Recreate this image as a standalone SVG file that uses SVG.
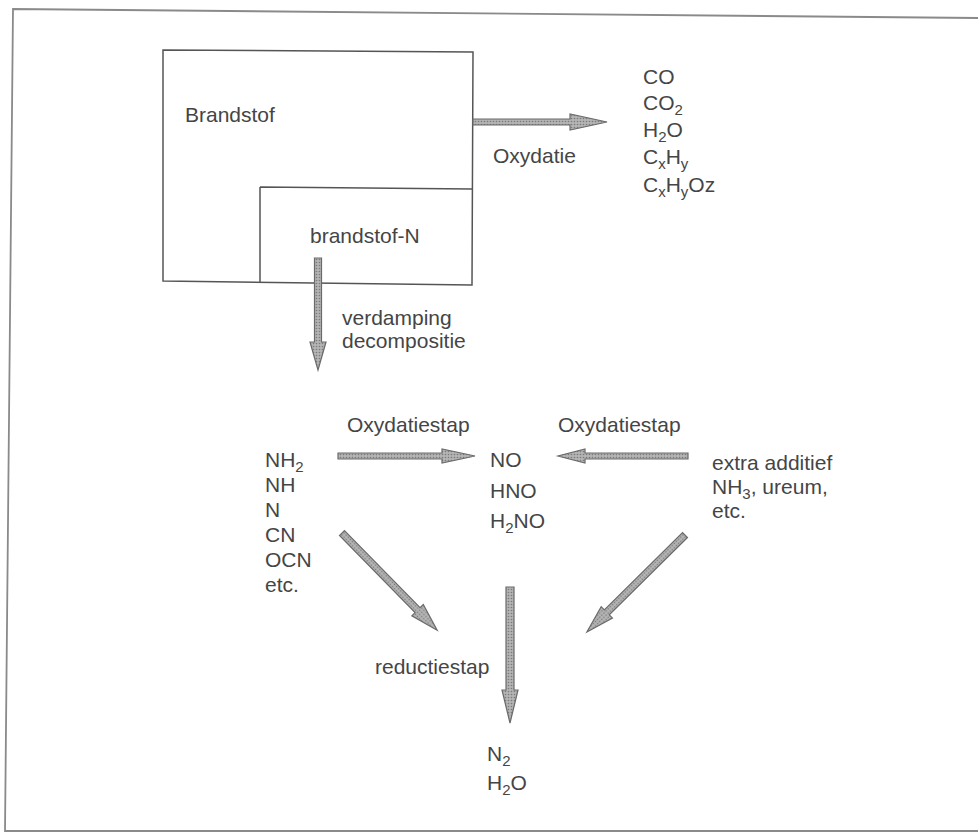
<svg xmlns="http://www.w3.org/2000/svg" width="978" height="836" viewBox="0 0 978 836">
<defs>
<pattern id="dots" width="3" height="3" patternUnits="userSpaceOnUse">
<rect width="3" height="3" fill="#b4b4b4"/>
<circle cx="1.5" cy="1.5" r="0.8" fill="#7a7a7a"/>
</pattern>
</defs>
<style>
.t{font-family:"Liberation Sans",Arial,sans-serif;font-size:21px;fill:#454545}
.s{font-size:15px}
.box{fill:none;stroke:#555;stroke-width:1.5}
.frame{fill:none;stroke:#8a8a8a;stroke-width:1.8}
.arr{fill:url(#dots);stroke:#6a6a6a;stroke-width:1.2;stroke-linejoin:miter}
</style>
<rect width="978" height="836" fill="#fff"/>
<path class="frame" d="M978,18 L13,9 L5,831 L978,831"/>

<g id="brandstof">
<path class="box" d="M163,50 L473,52 L472,285 L163,281 Z"/>
<text class="t" x="185" y="122">Brandstof</text>
</g>
<g id="brandstof-n">
<path class="box" d="M260,187 L472,189 M260,187 L260,283"/>
<text class="t" x="310" y="243">brandstof-N</text>
</g>

<g id="products-ox">
<text class="t" x="643" y="84">CO</text>
<text class="t" x="643" y="110">CO<tspan class="s" dy="5">2</tspan></text>
<text class="t" x="643" y="137">H<tspan class="s" dy="5">2</tspan><tspan dy="-5">O</tspan></text>
<text class="t" x="643" y="164">C<tspan class="s" dy="5">x</tspan><tspan dy="-5">H</tspan><tspan class="s" dy="5">y</tspan></text>
<text class="t" x="643" y="192">C<tspan class="s" dy="5">x</tspan><tspan dy="-5">H</tspan><tspan class="s" dy="5">y</tspan><tspan dy="-5">Oz</tspan></text>
</g>

<g id="intermediates">
<text class="t" x="265" y="467">NH<tspan class="s" dy="5">2</tspan></text>
<text class="t" x="265" y="492">NH</text>
<text class="t" x="265" y="517">N</text>
<text class="t" x="265" y="542">CN</text>
<text class="t" x="265" y="567">OCN</text>
<text class="t" x="265" y="592">etc.</text>
</g>

<g id="no-species">
<text class="t" x="490" y="467">NO</text>
<text class="t" x="490" y="498">HNO</text>
<text class="t" x="490" y="528">H<tspan class="s" dy="5">2</tspan><tspan dy="-5">NO</tspan></text>
</g>

<g id="additief">
<text class="t" x="712" y="470">extra additief</text>
<text class="t" x="712" y="494">NH<tspan class="s" dy="5">3</tspan><tspan dy="-5">, ureum,</tspan></text>
<text class="t" x="712" y="518">etc.</text>
</g>

<g id="end-products">
<text class="t" x="487" y="761">N<tspan class="s" dy="5">2</tspan></text>
<text class="t" x="487" y="790">H<tspan class="s" dy="5">2</tspan><tspan dy="-5">O</tspan></text>
</g>

<g id="connectors">
<polygon class="arr" points="473,119 570,119 570,114 607,122 570,130 570,125 473,125"/>
<polygon class="arr" points="314.5,258 321.5,258 321.5,342 326,342 318,370 310,342 314.5,342"/>
<polygon class="arr" points="338,453 442,453 442,449 475,456 442,463 442,459 338,459"/>
<polygon class="arr" points="688,453 585,453 585,449 558,456 585,463 585,459 688,459"/>
<polygon class="arr" points="506,587 514,587 514,690 518,690 510,723 502,690 506,690"/>
<g transform="translate(342,533) rotate(45.6)">
<polygon class="arr" points="0,-3.5 108,-3.5 108,-8 136,0 108,8 108,3.5 0,3.5"/>
</g>
<g transform="translate(685,535) rotate(135.3)">
<polygon class="arr" points="0,-3.5 110,-3.5 110,-8 138,0 110,8 110,3.5 0,3.5"/>
</g>
</g>

<g id="labels">
<text class="t" x="493" y="163">Oxydatie</text>
<text class="t" x="342" y="325">verdamping</text>
<text class="t" x="342" y="348">decompositie</text>
<text class="t" x="347" y="432">Oxydatiestap</text>
<text class="t" x="558" y="432">Oxydatiestap</text>
<text class="t" x="375" y="674">reductiestap</text>
</g>
</svg>
